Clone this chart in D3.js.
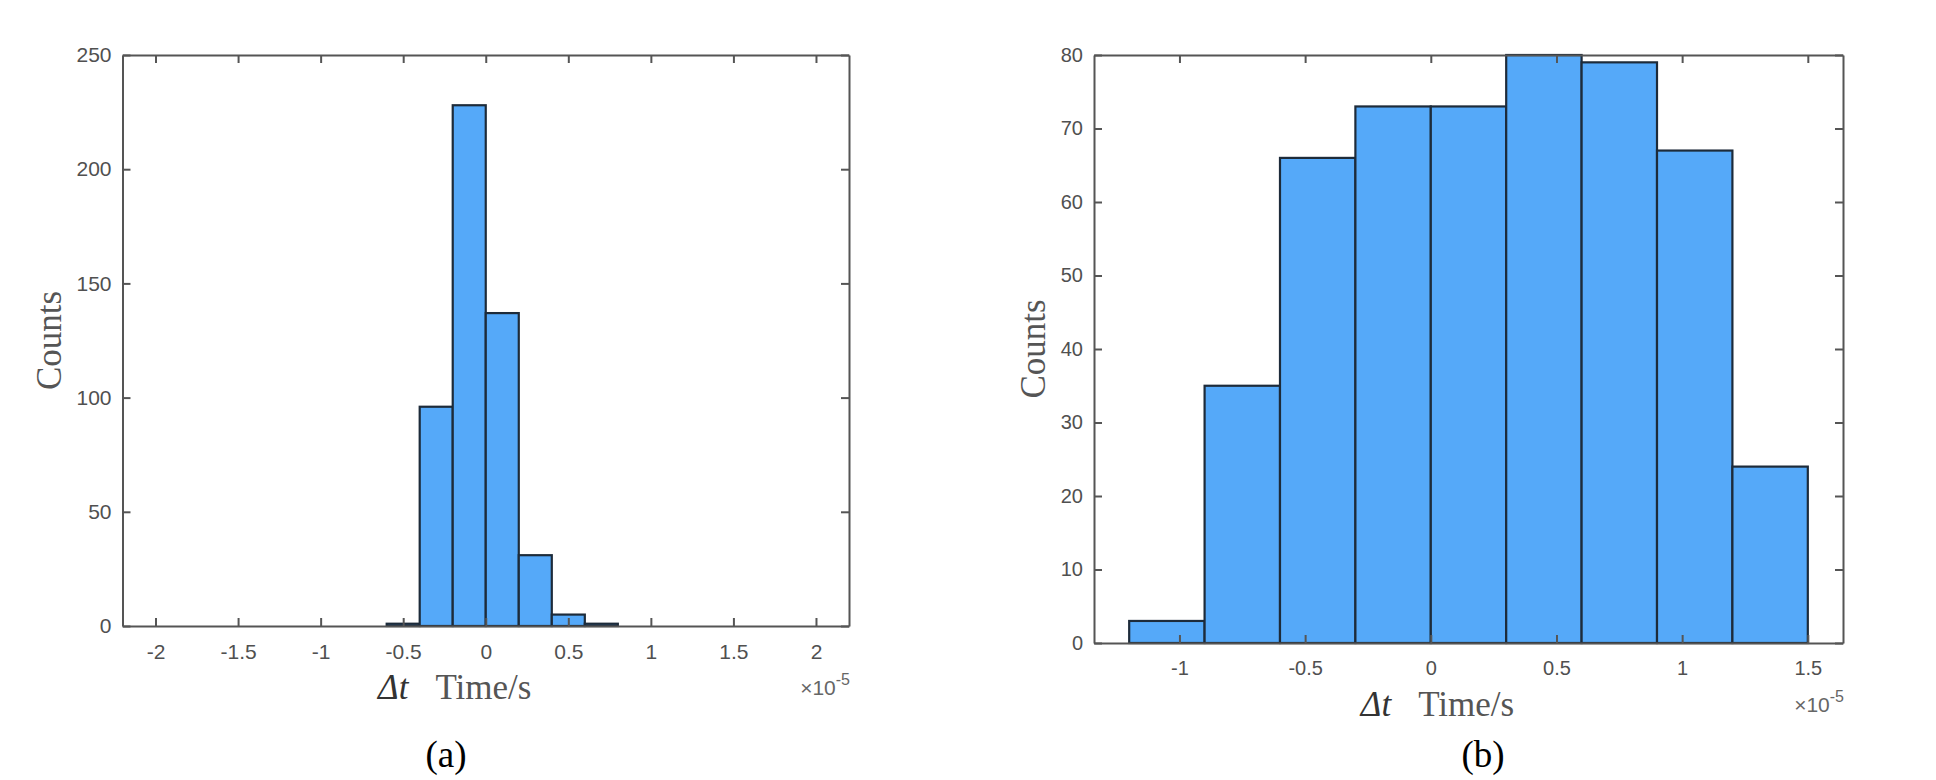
<!DOCTYPE html>
<html>
<head>
<meta charset="utf-8">
<script src="https://cdn.jsdelivr.net/npm/d3@7/dist/d3.min.js"></script>
<style>
  html, body { margin: 0; padding: 0; background: #ffffff; }
  svg { display: block; }
</style>
</head>
<body>
<svg id="chart" width="1936" height="780"></svg>
<script>
// ---------- data (×10^-5 s) ----------
const binEdgesA = [-0.6, -0.4, -0.2, 0, 0.2, 0.4, 0.6, 0.8];
const countsA   = [1, 96, 228, 137, 31, 5, 1];
const xTicksA   = [-2, -1.5, -1, -0.5, 0, 0.5, 1, 1.5, 2];
const yTicksA   = [0, 50, 100, 150, 200, 250];
const xDomainA  = [-2.2, 2.2];
const yDomainA  = [0, 250];

const binEdgesB = [-1.2, -0.9, -0.6, -0.3, 0, 0.3, 0.6, 0.9, 1.2, 1.5];
const countsB   = [3, 35, 66, 73, 73, 80, 79, 67, 24];
const xTicksB   = [-1, -0.5, 0, 0.5, 1, 1.5];
const yTicksB   = [0, 10, 20, 30, 40, 50, 60, 70, 80];
const xDomainB  = [-1.34, 1.64];
const yDomainB  = [0, 80];

const panelLabels = ["(a)", "(b)"];
const yTitle = "Counts";
const xTitleItalic = "\u0394t";
const xTitleRest = "Time/s";

// ---------- layout ----------
const svg = d3.select("#chart");
const AXIS_COLOR = "#555555";
const TICK_TEXT = "#505050";
const FILL = "#55a9f9";
const EDGE = "#1d2b3a";

function fmt(v) { return String(v).replace("\u2212", "-"); }

function drawPanel(cfg) {
  const g = svg.append("g");
  const x = d3.scaleLinear().domain(cfg.xDomain).range([cfg.left, cfg.right]);
  const y = d3.scaleLinear().domain(cfg.yDomain).range([cfg.bottom, cfg.top]);

  const bins = cfg.counts.map((c, i) => ({ x0: cfg.edges[i], x1: cfg.edges[i + 1], c }));

  g.append("g").selectAll("rect").data(bins).join("rect")
    .attr("x", d => x(d.x0))
    .attr("y", d => y(d.c))
    .attr("width", d => x(d.x1) - x(d.x0))
    .attr("height", d => y(0) - y(d.c))
    .attr("fill", FILL)
    .attr("stroke", EDGE)
    .attr("stroke-width", 2.2);

  const styleAxis = sel => {
    sel.selectAll(".domain").attr("stroke", AXIS_COLOR).attr("stroke-width", 2);
    sel.selectAll(".tick line").attr("stroke", AXIS_COLOR).attr("stroke-width", 2);
    sel.selectAll(".tick text").attr("fill", TICK_TEXT)
      .style("font-family", "'Liberation Sans', Arial, sans-serif")
      .style("font-size", cfg.tickFont + "px");
  };

  // bottom
  g.append("g").attr("transform", `translate(0,${cfg.bottom})`)
    .call(d3.axisBottom(x).tickValues(cfg.xTicks).tickFormat(fmt)
      .tickSizeInner(-8).tickSizeOuter(0).tickPadding(18))
    .call(styleAxis);
  // top
  g.append("g").attr("transform", `translate(0,${cfg.top})`)
    .call(d3.axisTop(x).tickValues(cfg.xTicks).tickFormat("")
      .tickSizeInner(-8).tickSizeOuter(0))
    .call(styleAxis);
  // left
  g.append("g").attr("transform", `translate(${cfg.left},0)`)
    .call(d3.axisLeft(y).tickValues(cfg.yTicks).tickFormat(fmt)
      .tickSizeInner(-8).tickSizeOuter(0).tickPadding(11))
    .call(styleAxis);
  // right
  g.append("g").attr("transform", `translate(${cfg.right},0)`)
    .call(d3.axisRight(y).tickValues(cfg.yTicks).tickFormat("")
      .tickSizeInner(-8).tickSizeOuter(0))
    .call(styleAxis);

  // exponent label
  const ex = g.append("text")
    .attr("x", cfg.right + 1).attr("y", cfg.bottom + 69)
    .attr("text-anchor", "end")
    .attr("fill", "#666666")
    .style("font-family", "'Liberation Sans', Arial, sans-serif")
    .style("font-size", "21px");
  ex.append("tspan").text("\u00d710");
  ex.append("tspan").attr("dy", -10).style("font-size", "16px").text("-5");

  // x title
  const cx = (cfg.left + cfg.right) / 2 - 31;
  const xt = g.append("text")
    .attr("x", cx).attr("y", cfg.bottom + 73)
    .attr("text-anchor", "middle")
    .style("font-family", "'Liberation Serif', 'Times New Roman', serif")
    .style("font-size", "35px");
  xt.append("tspan").attr("fill", "#333333").style("font-style", "italic").text(xTitleItalic);
  xt.append("tspan").attr("dx", 27).attr("fill", "#555555").text(xTitleRest);

  // y title
  g.append("text")
    .attr("transform", `translate(${cfg.yTitleX},${(cfg.top + cfg.bottom) / 2}) rotate(-90)`)
    .attr("text-anchor", "middle")
    .attr("fill", "#555555")
    .style("font-family", "'Liberation Serif', 'Times New Roman', serif")
    .style("font-size", "35px")
    .text(yTitle);

  // panel label
  g.append("text")
    .attr("x", cfg.labelX).attr("y", 767)
    .attr("text-anchor", "middle")
    .attr("fill", "#000000")
    .style("font-family", "'Liberation Serif', 'Times New Roman', serif")
    .style("font-size", "37px")
    .text(cfg.label);
}

drawPanel({
  edges: binEdgesA, counts: countsA, xTicks: xTicksA, yTicks: yTicksA,
  xDomain: xDomainA, yDomain: yDomainA,
  left: 122.5, right: 849, top: 55, bottom: 626,
  tickFont: 21, yTitleX: 61, labelX: 446, label: panelLabels[0]
});

drawPanel({
  edges: binEdgesB, counts: countsB, xTicks: xTicksB, yTicks: yTicksB,
  xDomain: xDomainB, yDomain: yDomainB,
  left: 1094, right: 1843, top: 55, bottom: 643,
  tickFont: 20, yTitleX: 1045, labelX: 1483, label: panelLabels[1]
});
</script>
</body>
</html>
